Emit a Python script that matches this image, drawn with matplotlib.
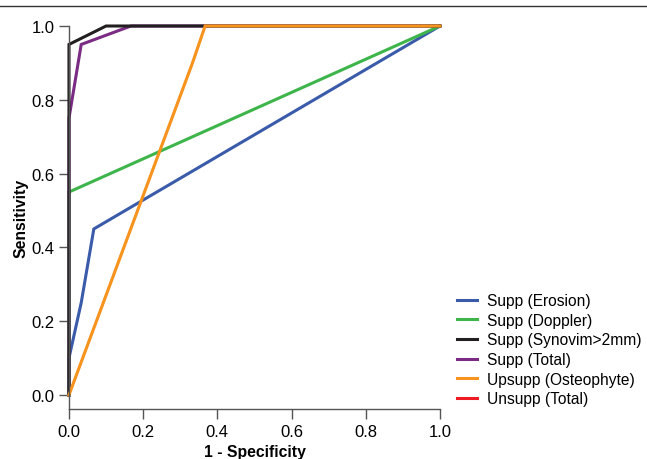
import matplotlib
matplotlib.use("Agg")
import matplotlib.pyplot as plt
from matplotlib.lines import Line2D

plt.rcParams['font.family'] = ['Liberation Sans', 'DejaVu Sans']

# ROC curves
erosion_x = [0, 0, 0.033, 0.067, 1.0]
erosion_y = [0, 0.10, 0.25, 0.45, 1.0]
doppler_x = [0, 0, 1.0]
doppler_y = [0, 0.55, 1.0]
synovim_x = [0, 0, 0.10, 1.0]
synovim_y = [0, 0.95, 1.0, 1.0]
total_x = [0, 0, 0.033, 0.167, 1.0]
total_y = [0, 0.75, 0.95, 1.0, 1.0]
osteo_x = [0, 0.333, 0.367, 1.0]
osteo_y = [0, 0.90, 1.0, 1.0]
unsupp_x = [0, 0.333, 0.367, 1.0]
unsupp_y = [0, 0.90, 1.0, 1.0]

labels = ["Supp (Erosion)", "Supp (Doppler)", "Supp (Synovim>2mm)",
          "Supp (Total)", "Upsupp (Osteophyte)", "Unsupp (Total)"]
colors = ["#3a5ba9", "#3db54a", "#231f20", "#7b2b83", "#f7941d", "#ed1c24"]
ticks = [0.0, 0.2, 0.4, 0.6, 0.8, 1.0]

fig = plt.figure(figsize=(6.47, 4.6), dpi=100)
ax = fig.add_axes([0.1066, 0.1087, 0.5734, 0.8326])

series = [(erosion_x, erosion_y), (doppler_x, doppler_y), (synovim_x, synovim_y),
          (total_x, total_y), (osteo_x, osteo_y), (unsupp_x, unsupp_y)]
# draw order: red hidden below orange, orange on top
order = [5, 0, 1, 3, 2, 4]
for i in order:
    x, y = series[i]
    lw = 1.4 if i == 5 else 2.2
    ax.plot(x, y, color=colors[i], lw=lw, clip_on=False, solid_joinstyle='miter')

ax.set_xlim(0, 1.0)
ax.set_ylim(-0.038, 1.0)
ax.set_xticks(ticks)
ax.set_yticks(ticks)
ax.set_xticklabels([f"{t:.1f}" for t in ticks])
ax.set_yticklabels([f"{t:.1f}" for t in ticks])
for s in ["top", "right"]:
    ax.spines[s].set_visible(False)
for s in ["left", "bottom"]:
    ax.spines[s].set_color("#555555")
    ax.spines[s].set_linewidth(1.0)
ax.spines["left"].set_bounds(-0.038, 1.0)
ax.tick_params(direction='out', length=7, width=1.0, color="#555555", labelsize=12)
ax.set_xlabel("1 - Specificity", fontweight='bold', fontsize=11.3, labelpad=4)
ax.set_ylabel("Sensitivity", fontweight='bold', fontsize=11.3, labelpad=2)

handles = [Line2D([0], [0], color=c, lw=2.2) for c in colors]
fig.legend(handles, labels, loc='lower left', bbox_to_anchor=(0.684, 0.084),
           frameon=False, fontsize=11.2, handlelength=1.33, handletextpad=0.6,
           labelspacing=0.3)

# thin rule at the top of the figure
fig.add_artist(Line2D([0, 1], [0.985, 0.985], color="#333333", lw=1.0,
                      transform=fig.transFigure))

fig.savefig("out.png", dpi=100)
